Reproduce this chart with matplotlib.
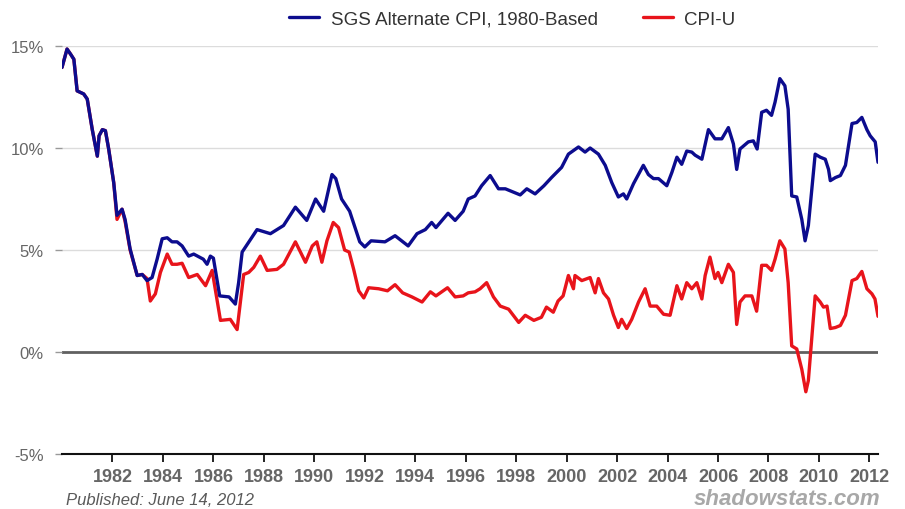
"""SGS Alternate CPI (1980-based) vs CPI-U, annual inflation 1980-2012."""

import matplotlib

matplotlib.use("Agg")
import matplotlib.pyplot as plt

# --- data (decimal year, % yoy) ---
sgs_years = [
    1980.00, 1980.20, 1980.34, 1980.47, 1980.60, 1980.86, 1981.00, 1981.20, 1981.40, 1981.47,
    1981.60, 1981.72, 1981.85, 1982.05, 1982.18, 1982.38, 1982.50, 1982.70, 1982.98, 1983.18,
    1983.37, 1983.57, 1983.77, 1983.97, 1984.17, 1984.36, 1984.56, 1984.76, 1985.02, 1985.22,
    1985.45, 1985.60, 1985.75, 1985.88, 1986.00, 1986.25, 1986.62, 1986.87, 1987.00, 1987.14,
    1987.30, 1987.73, 1988.26, 1988.78, 1989.25, 1989.70, 1990.05, 1990.37, 1990.70, 1990.85,
    1991.08, 1991.40, 1991.80, 1992.00, 1992.25, 1992.80, 1993.20, 1993.72, 1994.07, 1994.40,
    1994.65, 1994.82, 1995.30, 1995.58, 1995.90, 1996.10, 1996.37, 1996.63, 1996.97, 1997.30,
    1997.57, 1998.16, 1998.42, 1998.75, 1999.10, 1999.40, 1999.80, 2000.07, 2000.47, 2000.73,
    2000.93, 2001.26, 2001.53, 2001.79, 2002.05, 2002.25, 2002.38, 2002.65, 2003.04, 2003.24,
    2003.44, 2003.64, 2003.97, 2004.17, 2004.37, 2004.56, 2004.76, 2004.96, 2005.09, 2005.36,
    2005.62, 2005.88, 2006.15, 2006.41, 2006.61, 2006.74, 2006.87, 2007.20, 2007.40, 2007.55,
    2007.73, 2007.92, 2008.12, 2008.26, 2008.45, 2008.65, 2008.78, 2008.92, 2009.12, 2009.32,
    2009.45, 2009.58, 2009.85, 2010.05, 2010.25, 2010.38, 2010.45, 2010.65, 2010.85, 2011.05,
    2011.31, 2011.50, 2011.70, 2011.90, 2012.03, 2012.23, 2012.34,
]
sgs_values = [
    13.95, 14.85, 14.6, 14.35, 12.8, 12.65, 12.4, 10.9, 9.6, 10.6,
    10.9, 10.85, 9.95, 8.3, 6.7, 7.0, 6.5, 5.05, 3.75, 3.8,
    3.5, 3.65, 4.55, 5.55, 5.6, 5.4, 5.4, 5.2, 4.7, 4.8,
    4.65, 4.55, 4.3, 4.7, 4.6, 2.75, 2.7, 2.35, 3.4, 4.9,
    5.2, 6.0, 5.8, 6.2, 7.1, 6.45, 7.5, 6.9, 8.7, 8.5,
    7.5, 6.9, 5.4, 5.15, 5.45, 5.4, 5.7, 5.2, 5.8, 6.0,
    6.35, 6.1, 6.8, 6.45, 6.9, 7.5, 7.65, 8.15, 8.65, 8.0,
    8.0, 7.7, 8.0, 7.75, 8.15, 8.55, 9.05, 9.7, 10.05, 9.8,
    10.0, 9.7, 9.15, 8.3, 7.6, 7.75, 7.5, 8.25, 9.15, 8.7,
    8.5, 8.5, 8.15, 8.8, 9.55, 9.2, 9.85, 9.8, 9.65, 9.45,
    10.9, 10.45, 10.45, 11.0, 10.2, 8.95, 9.95, 10.3, 10.35, 9.95,
    11.75, 11.85, 11.6, 12.25, 13.4, 13.05, 11.9, 7.65, 7.6, 6.5,
    5.45, 6.2, 9.7, 9.55, 9.45, 8.95, 8.4, 8.55, 8.65, 9.15,
    11.2, 11.25, 11.5, 10.9, 10.6, 10.3, 9.3,
]

cpi_years = [
    1980.00, 1980.20, 1980.34, 1980.47, 1980.60, 1980.86, 1981.00, 1981.20, 1981.40, 1981.47,
    1981.60, 1981.72, 1981.85, 1982.05, 1982.18, 1982.38, 1982.50, 1982.70, 1982.98, 1983.18,
    1983.37, 1983.50, 1983.70, 1983.90, 1984.17, 1984.36, 1984.56, 1984.76, 1985.02, 1985.36,
    1985.69, 1985.95, 1986.28, 1986.67, 1986.94, 1987.20, 1987.40, 1987.60, 1987.86, 1988.13,
    1988.52, 1988.78, 1989.25, 1989.65, 1989.92, 1990.10, 1990.30, 1990.50, 1990.75, 1990.96,
    1991.20, 1991.38, 1991.56, 1991.76, 1991.96, 1992.15, 1992.55, 1992.90, 1993.20, 1993.50,
    1993.87, 1994.27, 1994.60, 1994.82, 1995.28, 1995.58, 1995.90, 1996.10, 1996.37, 1996.57,
    1996.83, 1997.10, 1997.37, 1997.70, 1998.10, 1998.36, 1998.70, 1999.00, 1999.20, 1999.47,
    1999.66, 1999.86, 2000.07, 2000.27, 2000.33, 2000.60, 2000.93, 2001.13, 2001.26, 2001.46,
    2001.66, 2001.86, 2002.05, 2002.18, 2002.38, 2002.58, 2002.85, 2003.11, 2003.31, 2003.57,
    2003.84, 2004.10, 2004.37, 2004.56, 2004.76, 2004.96, 2005.16, 2005.36, 2005.49, 2005.68,
    2005.88, 2006.00, 2006.15, 2006.41, 2006.61, 2006.74, 2006.87, 2007.07, 2007.34, 2007.53,
    2007.73, 2007.92, 2008.12, 2008.26, 2008.45, 2008.65, 2008.78, 2008.92, 2009.12, 2009.32,
    2009.48, 2009.58, 2009.85, 2010.05, 2010.18, 2010.32, 2010.45, 2010.65, 2010.85, 2011.05,
    2011.31, 2011.50, 2011.70, 2011.90, 2012.10, 2012.22, 2012.34,
]
cpi_values = [
    13.95, 14.85, 14.6, 14.35, 12.8, 12.65, 12.4, 10.9, 9.6, 10.6,
    10.9, 10.85, 9.95, 8.3, 6.5, 7.0, 6.4, 5.0, 3.75, 3.8,
    3.6, 2.5, 2.85, 3.9, 4.8, 4.3, 4.3, 4.35, 3.65, 3.8,
    3.25, 4.0, 1.55, 1.6, 1.1, 3.8, 3.9, 4.15, 4.7, 4.0,
    4.05, 4.3, 5.4, 4.4, 5.2, 5.4, 4.4, 5.45, 6.35, 6.1,
    5.0, 4.9, 4.05, 3.0, 2.65, 3.15, 3.1, 3.0, 3.3, 2.9,
    2.7, 2.45, 2.95, 2.75, 3.15, 2.7, 2.75, 2.9, 2.95, 3.1,
    3.4, 2.7, 2.25, 2.1, 1.45, 1.8, 1.55, 1.7, 2.2, 1.95,
    2.5, 2.75, 3.75, 3.1, 3.75, 3.5, 3.65, 2.9, 3.6, 2.9,
    2.6, 1.8, 1.2, 1.6, 1.15, 1.6, 2.45, 3.1, 2.25, 2.25,
    1.85, 1.8, 3.25, 2.6, 3.4, 3.1, 3.4, 2.6, 3.75, 4.65,
    3.6, 3.9, 3.4, 4.3, 3.9, 1.35, 2.45, 2.75, 2.75, 2.0,
    4.25, 4.25, 4.0, 4.55, 5.45, 5.05, 3.4, 0.3, 0.15, -0.85,
    -1.95, -1.4, 2.75, 2.45, 2.2, 2.25, 1.15, 1.2, 1.3, 1.8,
    3.5, 3.6, 3.95, 3.1, 2.85, 2.6, 1.75,
]

year_ticks = list(range(1982, 2013, 2))
pct_ticks = [-5, 0, 5, 10, 15]

SGS_COLOR = "#0c0c8e"
CPI_COLOR = "#e8141b"
TEXT_GRAY = "#5a5a5a"

plt.rcParams["font.family"] = ["Liberation Sans", "DejaVu Sans"]

fig = plt.figure(figsize=(9.05, 5.10), dpi=100)
ax = fig.add_axes([62 / 905, 1 - 455 / 510, (878 - 62) / 905, (455 - 47) / 510])

# horizontal guide lines
for v in (5, 10, 15):
    ax.axhline(v, color="#dcdcdc", lw=1.0, zorder=0)
ax.axhline(0, color="#606060", lw=2.0, zorder=1)

ax.plot(cpi_years, cpi_values, color=CPI_COLOR, lw=2.4, label="CPI-U", zorder=3,
        solid_joinstyle="round", solid_capstyle="round")
ax.plot(sgs_years, sgs_values, color=SGS_COLOR, lw=2.4, label="SGS Alternate CPI, 1980-Based",
        zorder=4, solid_joinstyle="round", solid_capstyle="round")

ax.set_xlim(1980.0, 2012.34)
ax.set_ylim(-5, 15)

for side in ("top", "right", "left"):
    ax.spines[side].set_visible(False)
ax.spines["bottom"].set_color("#111111")
ax.spines["bottom"].set_linewidth(1.5)

ax.set_xticks(year_ticks)
ax.set_xticklabels([str(y) for y in year_ticks], fontsize=13, fontweight="bold", color="#666666")
ax.tick_params(axis="x", direction="out", length=6, width=1.3, color="#111111", pad=4)

ax.set_yticks(pct_ticks)
ax.set_yticklabels([f"{v}%" for v in pct_ticks], fontsize=12, color="#666666")
ax.tick_params(axis="y", direction="out", length=5, width=1.0, color="#999999", pad=8)

handles, labels = ax.get_legend_handles_labels()
fig.legend(handles[::-1], labels[::-1], loc="center", ncol=2, frameon=False,
           bbox_to_anchor=(0.566, 1 - 20 / 510), fontsize=13.5, handlelength=1.6,
           handletextpad=0.6, columnspacing=2.4, labelcolor="#333333")

fig.text(66 / 905, 5 / 510, "Published: June 14, 2012", fontsize=12, style="italic",
         color=TEXT_GRAY, ha="left", va="baseline")
fig.text(880 / 905, 5 / 510, "shadowstats.com", fontsize=16, style="italic",
         fontweight="bold", color="#a8a8a8", ha="right", va="baseline")

fig.savefig("out.png", dpi=100)
